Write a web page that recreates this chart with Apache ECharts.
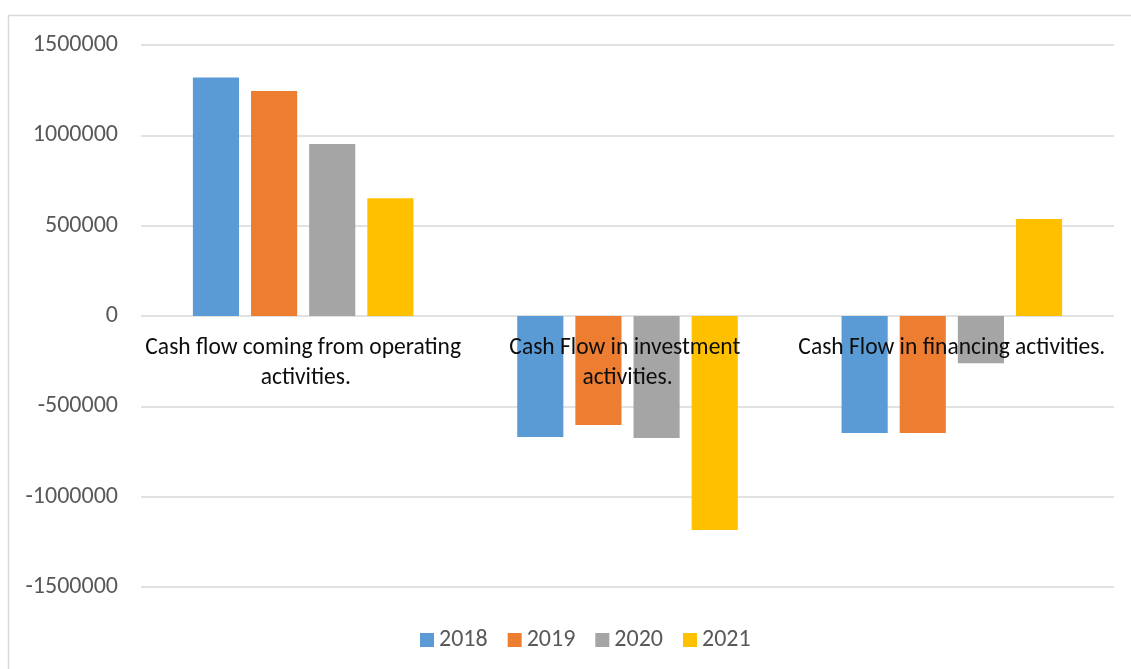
<!DOCTYPE html>
<html>
<head>
<meta charset="utf-8">
<script src="https://cdn.jsdelivr.net/npm/echarts@6/dist/echarts.min.js"></script>
<style>
html,body{margin:0;padding:0;background:#fff;}
#c{width:1131px;height:669px;}
</style>
</head>
<body>
<div id="c"></div>
<script>
const categories = ["Cash flow coming from operating activities.", "Cash Flow in investment activities.", "Cash Flow in financing activities."];
const seriesNames = ["2018", "2019", "2020", "2021"];
const v2018 = [1320000, -670000, -648000];
const v2019 = [1245000, -603000, -648000];
const v2020 = [952000, -675000, -262000];
const v2021 = [652000, -1185000, 537000];
const colors = ["#5B9BD5", "#ED7D31", "#A5A5A5", "#FFC000"];
const yMin = -1500000, yMax = 1500000, yStep = 500000;

const values = [v2018, v2019, v2020, v2021];
const FONT = 'Carlito, Lato, "Liberation Sans", Arial, sans-serif';
const chart = echarts.init(document.getElementById('c'));
const gridTop = 45, gridBottom = 82, H = 669;
const plotH = H - gridTop - gridBottom;
const zeroOffset = -plotH * (0 - yMin) / (yMax - yMin);
chart.setOption({
  animation: false,
  backgroundColor: '#fff',
  graphic: [{
    type: 'rect', shape: {x: 8.5, y: 15.5, width: 1200, height: 700},
    style: {fill: 'none', stroke: '#d9d9d9', lineWidth: 1.5}, silent: true
  }],
  grid: {left: 141, right: 17, top: gridTop, bottom: gridBottom, containLabel: false},
  legend: {
    top: 623, left: 415, itemWidth: 14, itemHeight: 14, itemGap: 20,
    icon: 'rect',
    textStyle: {color: '#595959', fontSize: 24, fontFamily: FONT},
    data: seriesNames
  },
  xAxis: {
    type: 'category', data: categories,
    offset: zeroOffset, z: 10,
    axisLine: {show: false, onZero: false},
    axisTick: {show: false},
    axisLabel: {
      interval: 0, width: 321, overflow: 'break', color: '#0d0d0d', fontSize: 23.5,
      lineHeight: 30, margin: 17,
      fontFamily: FONT
    }
  },
  yAxis: {
    type: 'value', min: yMin, max: yMax, interval: yStep,
    axisLine: {show: false}, axisTick: {show: false},
    splitLine: {lineStyle: {color: '#d9d9d9', width: 1.5}},
    axisLabel: {color: '#595959', fontSize: 24, margin: 23, fontFamily: FONT,
      formatter: v => String(v)}
  },
  series: seriesNames.map((n, i) => ({
    name: n, type: 'bar', data: values[i],
    itemStyle: {color: colors[i]},
    barGap: '26%', barCategoryGap: '32%'
  }))
});
</script>
</body>
</html>
